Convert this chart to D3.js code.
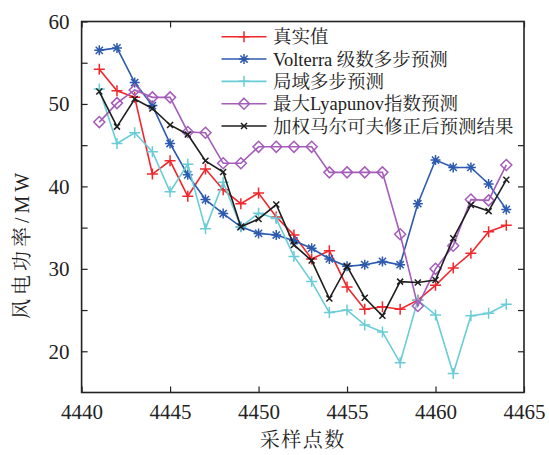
<!DOCTYPE html>
<html>
<head>
<meta charset="utf-8">
<script src="https://cdn.jsdelivr.net/npm/d3@7"></script>
</head>
<body style="margin:0; background:#fff">
<svg id="chart" width="549" height="455"></svg>
<script>
// sample index on the x axis
var samples = d3.range(4441, 4465);

var realValues = [54.2, 51.6, 50.8, 41.5, 43.1, 38.8, 42.1, 39.6, 37.9, 39.2, 36.3, 34.1,
                  31.2, 32.2, 27.8, 25.1, 25.4, 25.1, 26.2, 28.0, 30.1, 31.9, 34.5, 35.3];
var volterraValues = [56.5, 56.8, 52.6, 49.8, 45.2, 41.4, 38.4, 36.7, 35.1, 34.3, 34.1, 33.4,
                      32.5, 31.2, 30.3, 30.5, 30.9, 30.5, 37.9, 43.2, 42.3, 42.3, 40.3, 37.2];
var localValues = [51.8, 45.2, 46.5, 44.2, 39.35, 42.7, 34.85, 40.5, 35.1, 36.75, 36.1, 31.5,
                   28.45, 24.7, 25.0, 23.2, 22.35, 18.6, 26.2, 24.4, 17.3, 24.3, 24.6, 25.7];
var lyapunovValues = [47.8, 50.1, 51.7, 50.8, 50.8, 46.6, 46.5, 42.8, 42.8, 44.8, 44.8, 44.8,
                      44.8, 41.7, 41.7, 41.7, 41.7, 34.2, 25.5, 30.0, 32.8, 38.4, 38.3, 42.6];
var markovValues = [51.5, 47.25, 50.6, 49.45, 47.45, 46.3, 43.1, 41.75, 35.1, 36.05, 37.8, 32.9,
                    31.0, 26.4, 30.3, 26.5, 24.3, 28.45, 28.35, 28.65, 33.7, 37.75, 37.0, 40.8];

var seriesNames = ["真实值", "Volterra 级数多步预测", "局域多步预测",
                   "最大Lyapunov指数预测", "加权马尔可夫修正后预测结果"];

var xTicks = [4440, 4445, 4450, 4455, 4460, 4465];
var yTicks = [20, 25, 30, 35, 40, 45, 50, 55, 60];

var fontStack = "'Liberation Serif', 'Noto Serif CJK SC', serif";

// marker shapes (size = half-width in px)
var plusShape = { draw: function(c, s) { c.moveTo(-s, 0); c.lineTo(s, 0); c.moveTo(0, -s); c.lineTo(0, s); } };
var timesShape = { draw: function(c, s) { c.moveTo(-s, -s); c.lineTo(s, s); c.moveTo(-s, s); c.lineTo(s, -s); } };
var starShape = { draw: function(c, s) {
    var d = s * 0.72;
    c.moveTo(-s, 0); c.lineTo(s, 0); c.moveTo(0, -s); c.lineTo(0, s);
    c.moveTo(-d, -d); c.lineTo(d, d); c.moveTo(-d, d); c.lineTo(d, -d);
} };
var diamondShape = { draw: function(c, s) { c.moveTo(0, -s); c.lineTo(s, 0); c.lineTo(0, s); c.lineTo(-s, 0); c.closePath(); } };

var series = [
    { name: seriesNames[0], values: realValues, color: "#f0282d", shape: plusShape, size: 5.5 },
    { name: seriesNames[1], values: volterraValues, color: "#2c5aae", shape: starShape, size: 5 },
    { name: seriesNames[2], values: localValues, color: "#6accd6", shape: plusShape, size: 5.5 },
    { name: seriesNames[3], values: lyapunovValues, color: "#a45db8", shape: diamondShape, size: 5.5 },
    { name: seriesNames[4], values: markovValues, color: "#1e1e1e", shape: timesShape, size: 3 }
];

var svg = d3.select("#chart");
var plotLeft = 81.6, plotRight = 524, plotTop = 21.5, plotBottom = 392.5;

var x = d3.scaleLinear().domain([4440, 4465]).range([plotLeft, plotRight]);
var y = d3.scaleLinear().domain([15, 60]).range([plotBottom, plotTop]);

var tickLen = 6;

// axes with inward ticks
var xAxisB = d3.axisBottom(x).tickValues(xTicks).tickSizeInner(-tickLen).tickSizeOuter(0)
    .tickPadding(12).tickFormat(d3.format("d"));
var xAxisT = d3.axisTop(x).tickValues(xTicks).tickSizeInner(-tickLen).tickSizeOuter(0).tickFormat("");
var yAxisL = d3.axisLeft(y).tickValues(yTicks).tickSizeInner(-tickLen).tickSizeOuter(0).tickPadding(12)
    .tickFormat(function(d) { return d % 10 === 0 ? d : ""; });
var yAxisR = d3.axisRight(y).tickValues(yTicks).tickSizeInner(-tickLen).tickSizeOuter(0).tickFormat("");

function styleAxis(g) {
    g.select(".domain").remove();
    g.selectAll(".tick line").attr("stroke", "#222").attr("stroke-width", 1.2);
    g.selectAll(".tick text").attr("font-size", 21).attr("fill", "#222")
        .style("font-family", fontStack);
}

svg.append("g").attr("transform", "translate(0," + plotBottom + ")").call(xAxisB).call(styleAxis);
svg.append("g").attr("transform", "translate(0," + plotTop + ")").call(xAxisT).call(styleAxis);
svg.append("g").attr("transform", "translate(" + plotLeft + ",0)").call(yAxisL).call(styleAxis);
svg.append("g").attr("transform", "translate(" + plotRight + ",0)").call(yAxisR).call(styleAxis);

// data lines
var line = d3.line()
    .x(function(d, i) { return x(samples[i]); })
    .y(function(d) { return y(d); });

var plot = svg.append("g");

series.forEach(function(s) {
    var g = plot.append("g");
    g.append("path")
        .attr("d", line(s.values))
        .attr("fill", "none")
        .attr("stroke", s.color)
        .attr("stroke-width", 1.6);
    g.selectAll("path.mk")
        .data(s.values)
        .enter().append("path")
        .attr("class", "mk")
        .attr("transform", function(d, i) { return "translate(" + x(samples[i]) + "," + y(d) + ")"; })
        .attr("d", d3.symbol().type(s.shape).size(s.size))
        .attr("fill", "none")
        .attr("stroke", s.color)
        .attr("stroke-width", 1.5);
});

// legend
var legend = svg.append("g");
legend.append("rect")
    .attr("x", 214).attr("y", plotTop)
    .attr("width", plotRight - 214).attr("height", 116)
    .attr("fill", "#fff");

var legendY = d3.scaleLinear().domain([0, 4]).range([36.7, 126]);

series.forEach(function(s, i) {
    var ly = legendY(i);
    legend.append("line")
        .attr("x1", 221.5).attr("x2", 266.5)
        .attr("y1", ly).attr("y2", ly)
        .attr("stroke", s.color).attr("stroke-width", 1.6);
    legend.append("path")
        .attr("transform", "translate(244," + ly + ")")
        .attr("d", d3.symbol().type(s.shape).size(s.size))
        .attr("fill", "none").attr("stroke", s.color).attr("stroke-width", 1.5);
    legend.append("text")
        .attr("x", 273).attr("y", ly)
        .attr("dy", "0.36em")
        .attr("font-size", 18.5)
        .attr("fill", "#222")
        .style("font-family", fontStack)
        .text(s.name);
});

// frame
svg.append("rect")
    .attr("x", plotLeft).attr("y", plotTop)
    .attr("width", plotRight - plotLeft).attr("height", plotBottom - plotTop)
    .attr("fill", "none").attr("stroke", "#222").attr("stroke-width", 1.6);

// axis titles
svg.append("text")
    .attr("x", (plotLeft + plotRight) / 2).attr("y", 447)
    .attr("text-anchor", "middle")
    .attr("font-size", 20)
    .attr("letter-spacing", 1.5)
    .attr("fill", "#222")
    .style("font-family", fontStack)
    .text("采样点数");

svg.append("text")
    .attr("transform", "translate(29,244) rotate(-90)")
    .attr("text-anchor", "middle")
    .attr("font-size", 20)
    .attr("letter-spacing", 4)
    .attr("fill", "#222")
    .style("font-family", fontStack)
    .text("风电功率/MW");
</script>
</body>
</html>
